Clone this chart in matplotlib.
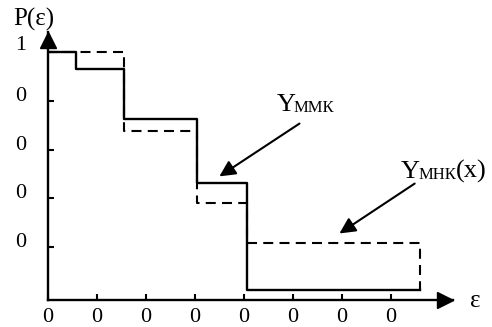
import matplotlib.pyplot as plt
import matplotlib.transforms as mtransforms

plt.rcParams['font.family'] = ['Liberation Serif', 'DejaVu Serif']

# step edges (epsilon) and probability levels
eps_mmk = [0.0, 0.57, 1.55, 3.04, 4.06, 7.6]
p_mmk = [1.0, 0.93, 0.725, 0.463, 0.025]

eps_mnk = [0.0, 1.55, 3.04, 4.06, 7.6]
p_mnk = [1.0, 0.676, 0.381, 0.217]

x_ticks = [0, 1, 2, 3, 4, 5, 6, 7]
x_labels = ["0"] * 8
y_ticks = [0.2, 0.4, 0.6, 0.8, 1.0]
y_labels = ["0", "0", "0", "0", "1"]

fig = plt.figure(figsize=(4.92, 3.27), dpi=100)
ax = fig.add_axes([48/492, 27/327, 405/492, 268/327])
ax.set_xlim(0, 405/49)
ax.set_ylim(-4/244, 264/244)

# solid step (MMK)
ax.plot(eps_mmk, p_mmk + [p_mmk[-1]], drawstyle='steps-post', color='black', lw=1.7)
# dashed step (MNK), closed down to the solid line at the right end
ax.plot(eps_mnk + [eps_mnk[-1]], p_mnk + [p_mnk[-1], p_mmk[-1]], drawstyle='steps-post',
        color='black', lw=1.5, dashes=(4.8, 3))

for s in ['top', 'right']:
    ax.spines[s].set_visible(False)
for s in ['left', 'bottom']:
    ax.spines[s].set_linewidth(1.7)

# axis arrow heads
off = mtransforms.ScaledTranslation(-0.075, 0, fig.dpi_scale_trans)
ax.plot(1, 0, marker='>', ms=11, color='black', transform=ax.transAxes + off, clip_on=False)
off = mtransforms.ScaledTranslation(0, -0.075, fig.dpi_scale_trans)
ax.plot(0, 1, marker='^', ms=11, color='black', transform=ax.transAxes + off, clip_on=False)

ax.set_xticks(x_ticks)
ax.set_xticklabels(x_labels, fontsize=16)
ax.set_yticks(y_ticks)
ax.set_yticklabels(y_labels, fontsize=16)
ax.tick_params(direction='in', length=4.5, width=1.5)
ax.tick_params(axis='x', pad=6)
ax.tick_params(axis='y', pad=16)
for lab in ax.get_yticklabels():
    dy = 0.09 if lab.get_text() == "1" else 0.07
    lab.set_transform(lab.get_transform() + mtransforms.ScaledTranslation(0, dy, fig.dpi_scale_trans))

fig.text(34/492, 1 - 19/327, "P(ε)", fontsize=18, ha='center', va='center')
fig.text(475/492, 1 - 301/327, "ε", fontsize=18, ha='center', va='center')

# label arrows
ax.annotate('', xy=(3.45, 0.484), xytext=(5.18, 0.713),
            arrowprops=dict(arrowstyle='-|>', color='black', lw=1.5, mutation_scale=24))
ax.annotate('', xy=(5.90, 0.25), xytext=(7.53, 0.467),
            arrowprops=dict(arrowstyle='-|>', color='black', lw=1.5, mutation_scale=24))

y1 = ax.text(4.66, 0.783, "Y", fontsize=19, ha='left', va='center')
ax.annotate("ММК", xy=(1, 0), xycoords=y1, xytext=(-1, 0), textcoords='offset points',
            fontsize=12, ha='left', va='bottom')
y2 = ax.text(7.20, 0.508, "Y", fontsize=19, ha='left', va='center')
s2 = ax.annotate("МНК", xy=(1, 0), xycoords=y2, xytext=(-1, 0), textcoords='offset points',
                 fontsize=12, ha='left', va='bottom')
ax.annotate("(x)", xy=(1, 0), xycoords=(s2, y2), fontsize=19, ha='left', va='bottom')

fig.savefig("out.png", dpi=100)
